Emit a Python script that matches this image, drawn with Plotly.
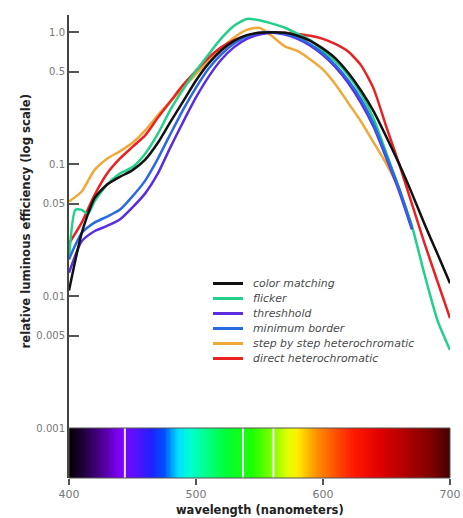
import plotly.graph_objects as go

# ---------------- data ----------------
wavelength = list(range(400, 701, 10))
wavelength_short = list(range(400, 671, 10))
wavelength_flicker = [400, 405, 410, 415] + list(range(420, 701, 10))

color_matching = [0.011, 0.030, 0.055, 0.070, 0.080, 0.090, 0.108, 0.145, 0.21, 0.30,
                  0.43, 0.58, 0.73, 0.86, 0.95, 0.99, 1.00, 0.99, 0.94, 0.86,
                  0.75, 0.63, 0.49, 0.36, 0.25, 0.16, 0.10, 0.060, 0.035, 0.021, 0.0125]
flicker = [0.019, 0.045, 0.045, 0.042, 0.052, 0.070, 0.085, 0.095, 0.12, 0.17,
           0.26, 0.37, 0.51, 0.68, 0.90, 1.12, 1.26, 1.23, 1.16, 1.08,
           0.97, 0.87, 0.72, 0.60, 0.47, 0.34, 0.22, 0.12, 0.065, 0.034, 0.0145, 0.0066, 0.0039]
threshhold = [0.015, 0.026, 0.031, 0.034, 0.038, 0.047, 0.060, 0.085, 0.135, 0.21,
              0.32, 0.46, 0.62, 0.77, 0.89, 0.96, 0.99, 0.96, 0.89, 0.79,
              0.67, 0.54, 0.41, 0.29, 0.19, 0.11, 0.062, 0.032]
minimum_border = [0.019, 0.030, 0.036, 0.040, 0.045, 0.057, 0.075, 0.11, 0.17, 0.26,
                  0.38, 0.53, 0.68, 0.82, 0.93, 0.99, 1.00, 0.97, 0.91, 0.81,
                  0.69, 0.56, 0.43, 0.31, 0.20, 0.115, 0.065, 0.033]
step_by_step = [0.052, 0.062, 0.090, 0.110, 0.125, 0.145, 0.18, 0.235, 0.30, 0.38,
                0.48, 0.60, 0.75, 0.91, 1.04, 1.08, 0.93, 0.78, 0.72, 0.62,
                0.52, 0.40, 0.29, 0.21, 0.145, 0.10, 0.064, 0.034]
direct = [0.025, 0.036, 0.058, 0.085, 0.11, 0.135, 0.165, 0.225, 0.30, 0.40,
          0.51, 0.64, 0.77, 0.87, 0.94, 0.98, 0.99, 0.99, 0.97, 0.94,
          0.89, 0.81, 0.71, 0.56, 0.37, 0.19, 0.10, 0.050, 0.025, 0.013, 0.0068]

series_names = ["color matching", "flicker", "threshhold", "minimum border",
                "step by step heterochromatic", "direct heterochromatic"]
series_x = [wavelength, wavelength_flicker, wavelength_short, wavelength_short,
            wavelength_short, wavelength]
series_y = [color_matching, flicker, threshhold, minimum_border, step_by_step, direct]
series_colors = ["#111111", "#22d08a", "#5a2ee0", "#2a6ae0", "#f0a838", "#e82222"]
draw_order = [4, 5, 1, 2, 3, 0]

spectrum_nm = list(range(400, 701))
spectrum_stops_nm = [400, 415, 430, 440, 452, 465, 475, 486, 496, 510, 525, 545,
                     560, 572, 580, 595, 610, 625, 645, 665, 685, 700]
spectrum_stops_color = ["#000000", "#2a0050", "#5a00b0", "#8000ff", "#5a10ff", "#2020ff",
                        "#0050ff", "#00e0ff", "#00ffd0", "#00ff80", "#00ff30", "#20ff00",
                        "#80ff00", "#e0ff00", "#ffee00", "#ff9000", "#ff5000", "#ff1800",
                        "#e00000", "#b00000", "#800000", "#450000"]
spectral_line_nm = [444, 537, 561]

y_ticks = [0.001, 0.005, 0.01, 0.05, 0.1, 0.5, 1.0]
y_tick_labels = ["0.001", "0.005", "0.01", "0.05", "0.1", "0.5", "1.0"]
x_ticks = [400, 500, 600, 700]

# ---------------- figure ----------------
W, H = 463, 518
ML, MR, MT, MB = 69, 13, 15, 40
PW, PH = W - ML - MR, H - MT - MB
bar_frac = 50 / PH
FONT = "DejaVu Sans, Verdana, sans-serif"

fig = go.Figure()

zmin, zmax = spectrum_nm[0], spectrum_nm[-1]
colorscale = [[(n - zmin) / (zmax - zmin), c] for n, c in zip(spectrum_stops_nm, spectrum_stops_color)]
fig.add_trace(go.Heatmap(z=[spectrum_nm], x=spectrum_nm, y=[0.5], colorscale=colorscale,
                         zmin=zmin, zmax=zmax, showscale=False, hoverinfo="skip",
                         xaxis="x", yaxis="y2"))

for i in draw_order:
    fig.add_trace(go.Scatter(x=series_x[i], y=series_y[i], mode="lines", name=series_names[i],
                             line=dict(color=series_colors[i], width=2.5, shape="spline", smoothing=0.6),
                             showlegend=False, xaxis="x", yaxis="y"))

shapes = []
for nm in spectral_line_nm:
    shapes.append(dict(type="line", xref="x", yref="y2 domain", x0=nm, x1=nm, y0=0, y1=1,
                       line=dict(color="#f3e6ff", width=2)))
shapes.append(dict(type="rect", xref="x domain", yref="y2 domain", x0=0, x1=1, y0=0, y1=1,
                   line=dict(color="#555555", width=1)))

annotations = []
def px_x(px):
    return (px - ML) / PW
def px_y(py):
    return (MT + PH - py) / PH

for i, name in enumerate(series_names):
    yy = px_y(283.5 + i * 15)
    shapes.append(dict(type="line", xref="paper", yref="paper", x0=px_x(213), x1=px_x(243),
                       y0=yy, y1=yy, line=dict(color=series_colors[i], width=3)))
    annotations.append(dict(xref="paper", yref="paper", x=px_x(251), y=yy, xanchor="left",
                            yanchor="middle", showarrow=False, text="<i>" + name + "</i>",
                            font=dict(family=FONT, size=10.9, color="#4a4a4a")))

annotations.append(dict(xref="paper", yref="paper", x=px_x(25), y=(1 + bar_frac) / 2,
                        textangle=-90, showarrow=False, xanchor="center", yanchor="middle",
                        text="<b>relative luminous efficiency (log scale)</b>",
                        font=dict(family=FONT, size=11.7, color="#222222")))
annotations.append(dict(xref="paper", yref="paper", x=0.5, y=px_y(510), showarrow=False,
                        xanchor="center", yanchor="middle",
                        text="<b>wavelength (nanometers)</b>",
                        font=dict(family=FONT, size=11.5, color="#222222")))

fig.update_layout(
    width=W, height=H,
    margin=dict(l=ML, r=MR, t=MT, b=MB, autoexpand=False),
    paper_bgcolor="white", plot_bgcolor="white",
    showlegend=False,
    xaxis=dict(range=[400, 700], anchor="y2", tickvals=x_ticks, ticks="outside", ticklen=6,
               tickwidth=1.5, tickcolor="#555555", showgrid=False, zeroline=False,
               automargin=False, showline=False,
               tickfont=dict(family=FONT, size=11, color="#777777")),
    yaxis=dict(type="log", range=[-3, 0.13], domain=[bar_frac, 1], tickvals=y_ticks,
               ticktext=y_tick_labels, ticks="inside", ticklen=10, tickwidth=1.5,
               tickcolor="#555555", showline=True, linecolor="#444444", linewidth=2,
               showgrid=False, zeroline=False, automargin=False,
               tickfont=dict(family=FONT, size=10, color="#777777")),
    yaxis2=dict(domain=[0, bar_frac], range=[0, 1], showticklabels=False, ticks="",
                showgrid=False, zeroline=False, showline=True, linecolor="#444444",
                linewidth=2, anchor="x", automargin=False),
    shapes=shapes,
    annotations=annotations,
)

fig.write_html("out.html",
               config={"displayModeBar": False},
               post_script="document.body.style.margin='0';document.body.style.padding='0';"
                           "document.documentElement.style.overflow='hidden';")
